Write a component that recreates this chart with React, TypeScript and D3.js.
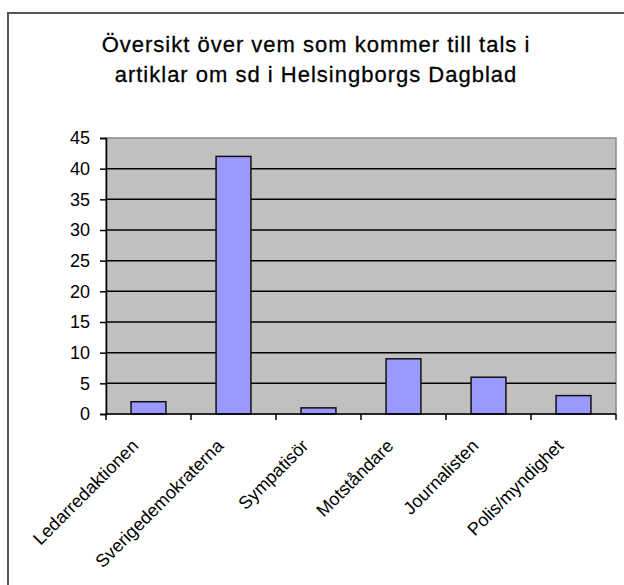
import { useEffect, useRef } from "react";
import * as d3 from "d3";

const categories = [
  "Ledarredaktionen",
  "Sverigedemokraterna",
  "Sympatisör",
  "Motståndare",
  "Journalisten",
  "Polis/myndighet",
];
const values = [2, 42, 1, 9, 6, 3];
const yTicks = [0, 5, 10, 15, 20, 25, 30, 35, 40, 45];
const titleLines = [
  "Översikt över vem som kommer till tals i",
  "artiklar om sd i Helsingborgs Dagblad",
];

export default function App() {
  const svgRef = useRef<SVGSVGElement>(null);

  useEffect(() => {
    const width = 624,
      height = 585;
    const plot = { left: 106, right: 616, top: 138, bottom: 414 };

    const svg = d3.select(svgRef.current);
    svg.selectAll("*").remove();
    svg.attr("width", width).attr("height", height);

    const font = "Arial, 'Liberation Sans', sans-serif";

    // outer frame
    svg.append("rect")
      .attr("x", 8)
      .attr("y", 13)
      .attr("width", 700)
      .attr("height", 700)
      .attr("fill", "#fff")
      .attr("stroke", "#555")
      .attr("stroke-width", 2);

    // title
    svg.append("g")
      .selectAll("text")
      .data(titleLines)
      .join("text")
        .attr("x", 316)
        .attr("y", (d, i) => 52 + i * 30)
        .attr("text-anchor", "middle")
        .attr("font-family", font)
        .attr("font-size", 22)
        .attr("letter-spacing", 1)
        .attr("stroke", "#000")
        .attr("stroke-width", 0.3)
        .attr("fill", "#000")
        .text(d => d);

    const x = d3.scaleBand<string>()
      .domain(categories)
      .range([plot.left, plot.right])
      .padding(0);

    const y = d3.scaleLinear()
      .domain([0, 45])
      .range([plot.bottom, plot.top]);

    // plot background
    svg.append("rect")
      .attr("x", plot.left)
      .attr("y", plot.top)
      .attr("width", plot.right - plot.left)
      .attr("height", plot.bottom - plot.top)
      .attr("fill", "#c0c0c0")
      .attr("stroke", "#8a8a8a")
      .attr("stroke-width", 1.5);

    // gridlines
    svg.append("g")
      .selectAll("line")
      .data(yTicks.filter(t => t > 0 && t < 45))
      .join("line")
        .attr("x1", plot.left)
        .attr("x2", plot.right)
        .attr("y1", d => y(d))
        .attr("y2", d => y(d))
        .attr("stroke", "#000")
        .attr("stroke-width", 1.5);

    // bars
    const barW = x.bandwidth() * 0.41;
    svg.append("g")
      .selectAll("rect")
      .data(values)
      .join("rect")
        .attr("x", (d, i) => x(categories[i])! + (x.bandwidth() - barW) / 2)
        .attr("y", d => y(d))
        .attr("width", barW)
        .attr("height", d => y(0) - y(d))
        .attr("fill", "#9999ff")
        .attr("stroke", "#111")
        .attr("stroke-width", 1.5);

    // y axis
    const yAxis = svg.append("g")
      .attr("transform", `translate(${plot.left},0)`)
      .call(d3.axisLeft(y).tickValues(yTicks).tickSize(6).tickPadding(10));
    yAxis.select(".domain").attr("stroke", "#000").attr("stroke-width", 1.5);
    yAxis.selectAll(".tick line").attr("stroke", "#000").attr("stroke-width", 1.5);
    yAxis.selectAll(".tick text")
      .attr("font-family", font)
      .attr("font-size", 18)
      .attr("fill", "#000");

    // x axis
    const xAxis = svg.append("g")
      .attr("transform", `translate(0,${plot.bottom})`);
    xAxis.append("line")
      .attr("x1", plot.left)
      .attr("x2", plot.right)
      .attr("stroke", "#000")
      .attr("stroke-width", 1.5);
    xAxis.selectAll("line.tick")
      .data(d3.range(categories.length + 1))
      .join("line")
        .attr("class", "tick")
        .attr("x1", i => plot.left + i * x.step())
        .attr("x2", i => plot.left + i * x.step())
        .attr("y1", 0)
        .attr("y2", 6)
        .attr("stroke", "#000")
        .attr("stroke-width", 1.5);
    xAxis.selectAll("text")
      .data(categories)
      .join("text")
        .attr("transform", d => `translate(${x(d)! + x.bandwidth() / 2 - 9},33) rotate(-45)`)
        .attr("text-anchor", "end")
        .attr("font-family", font)
        .attr("font-size", 18)
        .attr("fill", "#000")
        .text(d => d);
  }, []);

  return <svg ref={svgRef} style={{ position: "absolute", left: 0, top: 0 }}></svg>;
}
